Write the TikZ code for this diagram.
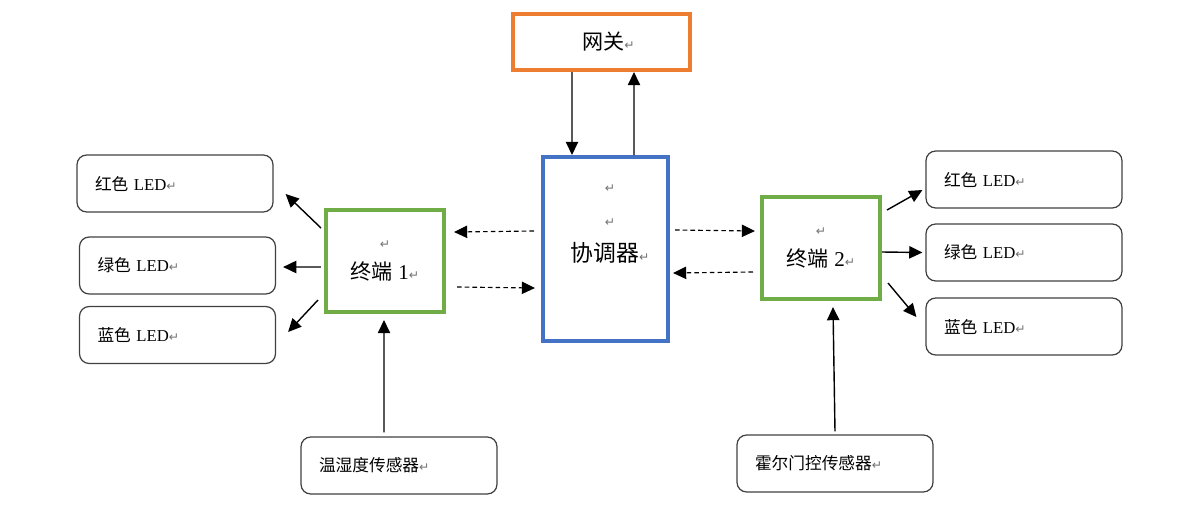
\documentclass[tikz,border=0pt]{standalone}
\usepackage{fontspec}
\setmainfont{Liberation Serif}
\newfontfamily\cjk{Noto Sans CJK SC}
\newfontfamily\symf{DejaVu Sans}
\usetikzlibrary{arrows.meta}
\definecolor{gwOrange}{HTML}{ED7D31}
\definecolor{coBlue}{HTML}{4472C4}
\definecolor{endGreen}{HTML}{70AD47}
\newcommand{\pmark}{{\symf\fontsize{7}{7}\selectfont\color{black!55}↵}}
\tikzset{
  % Peripheral boxes (LEDs, sensors)
  ledbox/.style={
    draw=black!75, line width=0.7pt, rounded corners=5.5pt,
    minimum width=3.92cm, minimum height=1.14cm,
    text width=3.2cm, inner xsep=0.36cm, align=left,
    font=\fontsize{9.5}{11}\selectfont
  },
  sensorbox/.style={ledbox},
  % Main boxes
  termbox/.style={
    draw=endGreen, line width=2.3pt, align=center,
    minimum width=2.36cm, minimum height=2.04cm,
    font=\fontsize{12}{18}\selectfont
  },
  coordbox/.style={
    draw=coBlue, line width=2.3pt,
    minimum width=2.5cm, minimum height=3.68cm
  },
  gatebox/.style={
    draw=gwOrange, line width=2.3pt,
    minimum width=3.54cm, minimum height=1.12cm,
    font=\fontsize{12}{14}\selectfont
  },
  % Wired / radio links
  link/.style={
    -{Triangle[length=7.5pt,width=7pt]}, line width=0.8pt
  },
  radio/.style={
    link, line width=0.65pt, dash pattern=on 2.6pt off 1.8pt
  },
}

\begin{document}
\begin{tikzpicture}[x=0.02cm, y=-0.02cm]
  \useasboundingbox (0,0) rectangle (1194,511);

  %% ── Gateway and coordinator ──
  \node[gatebox]  (gw) at (601.5,42) {\hspace{8pt}{\cjk 网关}\pmark};
  \node[coordbox] (co) at (605.5,249) {};
  \node[align=center, font=\fontsize{13}{19.5}\selectfont] (coText) at (610,224)
    {\pmark\\\pmark\\{\cjk 协调器}\pmark};

  %% ── End devices ──
  \node[termbox] (t1) at (385,261) {\pmark\\{\cjk 终端} 1\pmark};
  \node[termbox] (t2) at (821,248) {\pmark\\{\cjk 终端} 2\pmark};

  %% ── LEDs ──
  \node[ledbox] (ledL1) at (175,183.5) {{\cjk 红色} LED\pmark};
  \node[ledbox] (ledL2) at (177.5,265.5) {{\cjk 绿色} LED\pmark};
  \node[ledbox] (ledL3) at (177.5,335) {{\cjk 蓝色} LED\pmark};
  \node[ledbox] (ledR1) at (1024,179.5) {{\cjk 红色} LED\pmark};
  \node[ledbox] (ledR2) at (1024,252.5) {{\cjk 绿色} LED\pmark};
  \node[ledbox] (ledR3) at (1024,326.5) {{\cjk 蓝色} LED\pmark};

  %% ── Sensors ──
  \node[sensorbox] (senT) at (399,465.5) {{\cjk 温湿度传感器}\pmark};
  \node[sensorbox] (senH) at (835,463.5) {{\cjk 霍尔门控传感器}\pmark};

  %% ── Gateway <-> coordinator ──
  \draw[link] ([xshift=-0.59cm]gw.south) -- ([xshift=-0.67cm]co.north);
  \draw[link] ([xshift=0.57cm]co.north) -- ([xshift=0.65cm]gw.south);

  %% ── Coordinator <-> end devices ──
  \draw[radio] ([shift={(-0.14cm,0.36cm)}]co.west) -- ([shift={(0.16cm,0.58cm)}]t1.east);
  \draw[radio] ([shift={(0.22cm,-0.52cm)}]t1.east) -- ([shift={(-0.12cm,-0.78cm)}]co.west);
  \draw[radio] ([shift={(0.1cm,0.38cm)}]co.east) -- ([shift={(-0.1cm,0.34cm)}]t2.west);
  \draw[radio] ([shift={(-0.14cm,-0.48cm)}]t2.west) -- ([shift={(0.06cm,-0.48cm)}]co.east);

  %% ── End devices -> LEDs ──
  \draw[link] ([shift={(-0.06cm,0.66cm)}]t1.west) -- ([shift={(0.24cm,-0.21cm)}]ledL1.east);
  \draw[link] ([shift={(-0.06cm,-0.12cm)}]t1.west) -- ([shift={(0.14cm,-0.03cm)}]ledL2.east);
  \draw[link] ([shift={(-0.12cm,-0.78cm)}]t1.west) -- ([shift={(0.24cm,0.06cm)}]ledL3.east);
  \draw[link] ([shift={(0.1cm,0.76cm)}]t2.east) -- ([shift={(-0.06cm,-0.21cm)}]ledR1.west);
  \draw[link] ([shift={(0cm,-0.08cm)}]t2.east) -- ([shift={(-0.06cm,0cm)}]ledR2.west);
  \draw[link] ([shift={(0.12cm,-0.7cm)}]t2.east) -- ([shift={(-0.18cm,0.19cm)}]ledR3.west);

  %% ── Sensors -> end devices ──
  \draw[link] ([shift={(-0.3cm,0.08cm)}]senT.north) -- ([shift={(-0.02cm,-0.12cm)}]t1.south);
  \draw[link] ([shift={(0cm,0.06cm)}]senH.north) -- ([shift={(0.24cm,-0.12cm)}]t2.south);

\end{tikzpicture}
\end{document}
